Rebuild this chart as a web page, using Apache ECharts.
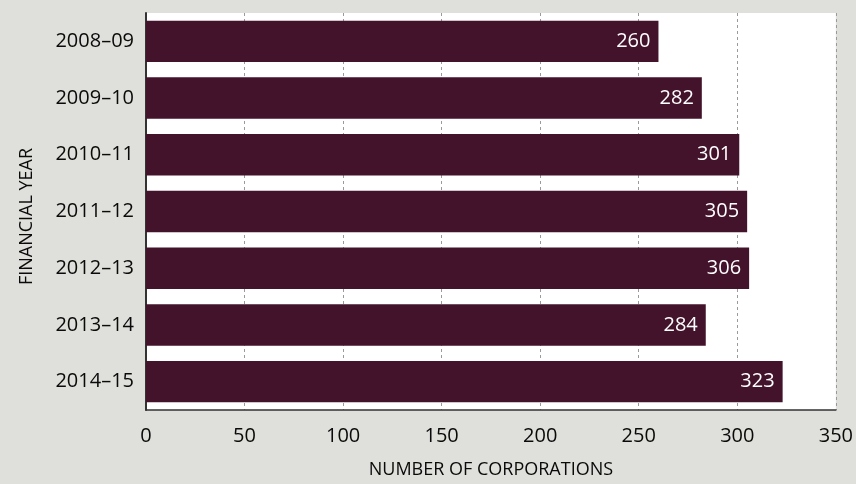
<!DOCTYPE html>
<html>
<head>
<meta charset="utf-8">
<script src="https://cdn.jsdelivr.net/npm/echarts@6/dist/echarts.min.js"></script>
<style>
  html, body { margin: 0; padding: 0; background: #dfdfdb; }
  #chart { width: 856px; height: 484px; }
</style>
</head>
<body>
<div id="chart"></div>
<script>
// Corporations per financial year
const years = ['2008–09', '2009–10', '2010–11', '2011–12', '2012–13', '2013–14', '2014–15'];
const corporations = [260, 282, 301, 305, 306, 284, 323];
const xTicks = [0, 50, 100, 150, 200, 250, 300, 350];

const FONT = '"Open Sans", "Noto Sans", sans-serif';
const TEXT = '#0a0a0a';
const chart = echarts.init(document.getElementById('chart'));

chart.setOption({
  backgroundColor: '#dfdfdb',
  animation: false,
  grid: {
    left: 146, right: 18, top: 13, bottom: 70,
    show: true, backgroundColor: '#ffffff', borderWidth: 0
  },
  xAxis: {
    type: 'value',
    min: xTicks[0],
    max: xTicks[xTicks.length - 1],
    interval: 50,
    name: 'NUMBER OF CORPORATIONS',
    nameLocation: 'middle',
    nameGap: 51,
    nameTextStyle: { fontFamily: FONT, fontSize: 18, fontWeight: 500, color: TEXT },
    axisLine: { show: true, lineStyle: { color: '#333', width: 1.5 } },
    axisTick: { show: false },
    axisLabel: { fontFamily: FONT, fontSize: 20, fontWeight: 500, color: TEXT, margin: 16 },
    splitLine: { show: true, lineStyle: { color: '#9a9a9a', type: [3, 3], width: 1 } }
  },
  yAxis: {
    type: 'category',
    data: years,
    inverse: true,
    name: 'FINANCIAL YEAR',
    nameLocation: 'middle',
    nameRotate: 90,
    nameGap: 110,
    nameTextStyle: { fontFamily: FONT, fontSize: 18, fontWeight: 500, color: TEXT, padding: [0, 10, 0, 0] },
    axisLine: { show: true, lineStyle: { color: '#333', width: 2 } },
    axisTick: { show: false },
    axisLabel: { fontFamily: FONT, fontSize: 20, fontWeight: 500, color: TEXT, margin: 12, padding: [10, 0, 0, 0] }
  },
  series: [{
    type: 'bar',
    data: corporations,
    barCategoryGap: '27%',
    itemStyle: { color: '#43132b' },
    label: {
      show: true,
      position: 'insideRight',
      distance: 8,
      color: '#ffffff',
      fontFamily: FONT,
      fontSize: 20,
      fontWeight: 500
    }
  }]
});
</script>
</body>
</html>
